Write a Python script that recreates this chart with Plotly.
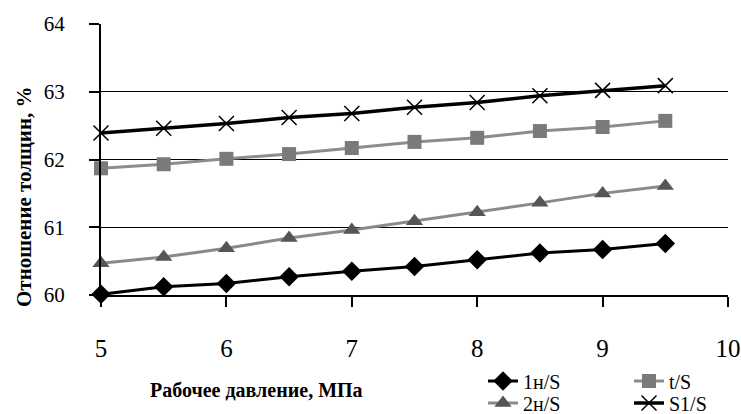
import plotly.graph_objects as go

pressure = [5, 5.5, 6, 6.5, 7, 7.5, 8, 8.5, 9, 9.5]
s_1n = [60.01, 60.12, 60.17, 60.27, 60.35, 60.42, 60.52, 60.62, 60.67, 60.76]
s_t = [61.87, 61.93, 62.01, 62.08, 62.17, 62.26, 62.32, 62.42, 62.48, 62.57]
s_2n = [60.47, 60.56, 60.69, 60.84, 60.96, 61.09, 61.22, 61.36, 61.50, 61.61]
s_s1 = [62.39, 62.46, 62.53, 62.62, 62.68, 62.77, 62.84, 62.94, 63.02, 63.09]

x_ticks = [5, 6, 7, 8, 9, 10]
y_ticks = [60, 61, 62, 63, 64]

FONT = "Times New Roman, Liberation Serif, DejaVu Serif, serif"

fig = go.Figure()
fig.add_trace(go.Scatter(
    x=pressure, y=s_1n, name="1н/S", mode="lines+markers", legend="legend",
    line=dict(color="#000000", width=3),
    marker=dict(symbol="diamond", size=15, color="#000000"),
    cliponaxis=False))
fig.add_trace(go.Scatter(
    x=pressure, y=s_t, name="t/S", mode="lines+markers", legend="legend",
    line=dict(color="#8c8c8c", width=3),
    marker=dict(symbol="square", size=14, color="#7a7a7a"),
    cliponaxis=False))
fig.add_trace(go.Scatter(
    x=pressure, y=s_2n, name="2н/S", mode="lines+markers", legend="legend2",
    line=dict(color="#8a8a8a", width=3),
    marker=dict(symbol="triangle-up", size=15, color="#555555"),
    cliponaxis=False))
fig.add_trace(go.Scatter(
    x=pressure, y=s_s1, name="S1/S", mode="lines+markers", legend="legend2",
    line=dict(color="#000000", width=3.5),
    marker=dict(symbol="x-thin", size=15, line=dict(color="#000000", width=1.5)),
    cliponaxis=False))

L, R, T, B = 101, 13, 24, 119
W, H = 741, 414
pw = W - L - R
ph = H - T - B

def px(xp):
    return (xp - L) / pw

def py(yp):
    return (H - B - yp) / ph

legend_common = dict(orientation="h", xanchor="left", yanchor="middle",
                     xref="container", yref="container",
                     font=dict(family=FONT, size=20, color="#000000"),
                     entrywidth=101, entrywidthmode="pixels",
                     bgcolor="rgba(0,0,0,0)", itemclick=False,
                     tracegroupgap=0)

fig.update_layout(
    width=W, height=H,
    margin=dict(l=L, r=R, t=T, b=B, pad=0, autoexpand=False),
    paper_bgcolor="white", plot_bgcolor="white",
    font=dict(family=FONT, color="#000000"),
    showlegend=True,
    legend=dict(x=483 / W, y=1 - 381 / H, **legend_common),
    legend2=dict(x=483 / W, y=1 - 403 / H, **legend_common),
    xaxis=dict(range=[5, 10], tickvals=x_ticks, ticktext=[str(v) for v in x_ticks],
               showgrid=False, zeroline=False, showline=True, linecolor="#000000",
               linewidth=2, ticks="outside", ticklen=10, tickwidth=1.5, tickcolor="#000000",
               tickfont=dict(family=FONT, size=25, color="#000000"),
               ticklabelstandoff=20, automargin=False),
    yaxis=dict(range=[60, 64], tickvals=y_ticks, ticktext=[str(v) for v in y_ticks],
               showgrid=True, gridcolor="#000000", gridwidth=1.4, zeroline=False,
               showline=True, linecolor="#000000", linewidth=2,
               ticks="outside", ticklen=10, tickwidth=1.5, tickcolor="#000000",
               tickfont=dict(family=FONT, size=21, color="#000000"),
               ticklabelstandoff=20, automargin=False),
    annotations=[
        dict(text="<b>Отношение толщин, %</b>", textangle=-90, showarrow=False,
             xref="paper", yref="paper", x=px(24), y=py(197),
             xanchor="center", yanchor="middle",
             font=dict(family=FONT, size=21, color="#000000")),
        dict(text="<b>Рабочее давление, МПа</b>", showarrow=False,
             xref="paper", yref="paper", x=px(256), y=py(390),
             xanchor="center", yanchor="middle",
             font=dict(family=FONT, size=20, color="#000000")),
    ],
)

fig.write_html("out.html")
